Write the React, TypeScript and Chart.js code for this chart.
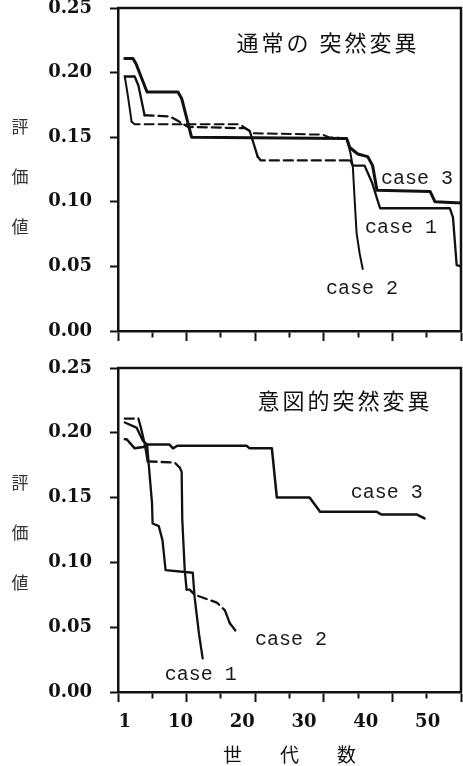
import React, { useEffect, useRef } from 'react';
import { Chart, registerables } from 'chart.js';

Chart.register(...registerables);

// ---------- data ----------
const X_MIN = -0.1;
const X_MAX = 55.4;
const Y_TICKS = [0, 0.05, 0.1, 0.15, 0.2, 0.25];
const X_TICK_LABELS = [1, 10, 20, 30, 40, 50];
const Y_LABEL_CHARS = ['評', '価', '値'];
const X_TITLE = '世　　代　　数';

// 通常の突然変異 (top panel)
const normalCase1Gen = [1, 2.6, 3.2, 4.2, 8.3, 9.5, 11.2, 19.6, 20.5, 21.2, 22.5, 23, 37.5, 37.9, 39.8, 41, 42.3, 53.6, 54.1, 54.7, 55.4];
const normalCase1Val = [0.197, 0.197, 0.19, 0.167, 0.166, 0.163, 0.158, 0.157, 0.157, 0.155, 0.135, 0.132, 0.132, 0.128, 0.128, 0.115, 0.095, 0.095, 0.088, 0.051, 0.05];
const normalCase2Gen = [1, 1.5, 2.1, 2.6, 19.6, 21.7, 33, 34, 36.9, 37.5, 37.9, 38.2, 38.5, 39, 39.5];
const normalCase2Val = [0.197, 0.182, 0.162, 0.16, 0.16, 0.153, 0.152, 0.15, 0.149, 0.138, 0.127, 0.101, 0.076, 0.06, 0.048];
const normalCase3Gen = [1, 2.3, 2.8, 4.6, 9.6, 10.2, 11.8, 36.9, 37.4, 38.7, 40.3, 41.1, 41.8, 50.4, 51.2, 55.4];
const normalCase3Val = [0.211, 0.211, 0.207, 0.185, 0.185, 0.18, 0.15, 0.149, 0.142, 0.137, 0.135, 0.128, 0.109, 0.108, 0.1, 0.099];

// 意図的突然変異 (bottom panel)
const intentCase1Gen = [1, 2.9, 3.9, 4.6, 5.4, 5.5, 6.5, 7.1, 7.6, 12, 12.3, 13, 13.6];
const intentCase1Val = [0.208, 0.204, 0.194, 0.191, 0.146, 0.13, 0.128, 0.117, 0.094, 0.092, 0.073, 0.045, 0.026];
const intentCase2Gen = [1, 3.2, 3.6, 4.2, 4.7, 9.1, 9.9, 10.2, 10.3, 10.7, 11, 11.5, 12.3, 15.9, 17.2, 18, 19.3];
const intentCase2Val = [0.211, 0.211, 0.204, 0.192, 0.178, 0.177, 0.173, 0.17, 0.133, 0.094, 0.079, 0.079, 0.075, 0.069, 0.063, 0.053, 0.045];
const intentCase3Gen = [1, 1.3, 2.6, 4, 4.6, 8.2, 8.8, 9.5, 20.7, 21.2, 24.8, 25.6, 30.9, 32.6, 41.8, 42.5, 48.2, 49.5];
const intentCase3Val = [0.195, 0.195, 0.188, 0.189, 0.191, 0.191, 0.188, 0.19, 0.19, 0.188, 0.188, 0.15, 0.15, 0.139, 0.139, 0.137, 0.137, 0.134];

// ---------- styling ----------
const INK = '#111';
const FONT_SERIF = '"DejaVu Serif", "Liberation Serif", serif';
const FONT_CJK = '"Noto Sans CJK JP", "Noto Sans", sans-serif';
const FONT_MONO = '"Liberation Mono", "DejaVu Sans Mono", monospace';

type SeriesDef = { label: string; gens: number[]; vals: number[]; width: number; dashBefore: number | null };
type PanelDef = {
  title: string;
  series: SeriesDef[];
  labels: { text: string; gen: number; val: number }[];
  showXLabels: boolean;
  height: number;
  padTop: number;
  titleDx: number;
  titleDy: number;
  yCharTop: number;
};

const TOP: PanelDef = {
  title: '通常の 突然変異',
  series: [
    { label: 'case 1', gens: normalCase1Gen, vals: normalCase1Val, width: 2.3, dashBefore: 37.4 },
    { label: 'case 2', gens: normalCase2Gen, vals: normalCase2Val, width: 2.0, dashBefore: 36.8 },
    { label: 'case 3', gens: normalCase3Gen, vals: normalCase3Val, width: 3.0, dashBefore: null },
  ],
  labels: [
    { text: 'case 3', gen: 48.3, val: 0.118 },
    { text: 'case 1', gen: 45.7, val: 0.08 },
    { text: 'case 2', gen: 39.4, val: 0.033 },
  ],
  showXLabels: false,
  height: 350,
  padTop: 8,
  titleDx: 133,
  titleDy: 35,
  yCharTop: 119,
};

const BOTTOM: PanelDef = {
  title: '意図的突然変異',
  series: [
    { label: 'case 1', gens: intentCase1Gen, vals: intentCase1Val, width: 2.3, dashBefore: null },
    { label: 'case 2', gens: intentCase2Gen, vals: intentCase2Val, width: 2.3, dashBefore: 100 },
    { label: 'case 3', gens: intentCase3Gen, vals: intentCase3Val, width: 2.5, dashBefore: null },
  ],
  labels: [
    { text: 'case 3', gen: 43.4, val: 0.154 },
    { text: 'case 2', gen: 27.9, val: 0.04 },
    { text: 'case 1', gen: 13.3, val: 0.013 },
  ],
  showXLabels: true,
  height: 416,
  padTop: 18,
  titleDx: 116,
  titleDy: 33,
  yCharTop: 115,
};

function buildConfig(panel: PanelDef): any {
  const datasets = panel.series.map((s) => ({
    label: s.label,
    data: s.gens.map((g, i) => ({ x: g, y: s.vals[i] })),
    borderColor: INK,
    backgroundColor: INK,
    borderWidth: s.width,
    pointRadius: 0,
    fill: false,
    tension: 0,
    borderJoinStyle: 'round',
    borderCapStyle: 'round',
    segment: {
      borderDash: (ctx: any) => {
        if (s.dashBefore == null) return [];
        const dx = Math.abs(ctx.p1.x - ctx.p0.x);
        const dy = Math.abs(ctx.p1.y - ctx.p0.y);
        return ctx.p0.parsed.x < s.dashBefore && dy < dx * 1.5 ? [9, 5] : [];
      },
    },
  }));

  const evenTicks = (scale: any) => {
    const t = [];
    for (let i = 0; i <= 10; i++) t.push({ value: X_MIN + ((X_MAX - X_MIN) * i) / 10 });
    scale.ticks = t;
  };

  const scales: any = {
    x: {
      type: 'linear',
      position: 'bottom',
      weight: 0,
      min: X_MIN,
      max: X_MAX,
      afterBuildTicks: evenTicks,
      ticks: { display: false },
      grid: {
        drawOnChartArea: false,
        drawTicks: true,
        tickLength: 10,
        tickWidth: 2,
        tickColor: INK,
        tickBorderDash: (c: any) => (c.index % 2 === 1 ? [5, 40] : []),
      },
      border: { display: true, color: INK, width: 2.5 },
      afterFit: (s: any) => {
        s.height = panel.showXLabels ? 10 : 19;
        s.paddingLeft = 0;
        s.paddingRight = 0;
      },
    },
    y: {
      type: 'linear',
      min: 0,
      max: 0.25,
      afterBuildTicks: (s: any) => {
        s.ticks = Y_TICKS.map((v) => ({ value: v }));
      },
      ticks: {
        callback: (v: any) => Number(v).toFixed(2),
        font: { family: FONT_SERIF, size: 18, weight: 'bold' },
        color: INK,
        padding: 18,
      },
      grid: { drawOnChartArea: false, tickLength: 8, tickWidth: 2, tickColor: INK },
      border: { display: true, color: INK, width: 2.5 },
      afterFit: (s: any) => {
        s.width = 118;
        s.paddingTop = 0;
        s.paddingBottom = 0;
      },
    },
  };

  if (panel.showXLabels) {
    scales.xl = {
      type: 'linear',
      position: 'bottom',
      weight: 1,
      min: X_MIN,
      max: X_MAX,
      afterBuildTicks: (s: any) => {
        s.ticks = X_TICK_LABELS.map((v) => ({ value: v }));
      },
      grid: { display: false, drawTicks: false },
      border: { display: false },
      ticks: {
        autoSkip: false,
        maxRotation: 0,
        padding: 10,
        color: INK,
        font: { family: FONT_SERIF, size: 18, weight: 'bold' },
        callback: (v: any) => String(v),
      },
      title: {
        display: true,
        text: X_TITLE,
        color: INK,
        font: { family: FONT_CJK, size: 19 },
        padding: { top: 0, bottom: 0 },
      },
      afterFit: (s: any) => {
        s.height = 64;
        s.paddingLeft = 0;
        s.paddingRight = 0;
      },
    };
  }

  const framePlugin = {
    id: 'frame',
    afterDatasetsDraw(chart: any) {
      const { ctx, chartArea: a } = chart;
      ctx.save();
      ctx.strokeStyle = INK;
      ctx.lineWidth = 2.5;
      ctx.beginPath();
      ctx.moveTo(a.left - 1, a.top);
      ctx.lineTo(a.right, a.top);
      ctx.lineTo(a.right, a.bottom);
      ctx.stroke();
      ctx.restore();
    },
  };

  const textPlugin = {
    id: 'panelText',
    afterDraw(chart: any) {
      const { ctx, chartArea: a } = chart;
      const xs = chart.scales.x;
      const ys = chart.scales.y;
      ctx.save();
      ctx.fillStyle = INK;
      ctx.textAlign = 'center';
      ctx.textBaseline = 'middle';
      // panel title
      ctx.font = `22px ${FONT_CJK}`;
      (ctx as any).letterSpacing = '3px';
      ctx.fillText(panel.title, a.right - panel.titleDx, a.top + panel.titleDy);
      (ctx as any).letterSpacing = '0px';
      // case labels
      ctx.font = `20px ${FONT_MONO}`;
      ctx.fillStyle = '#1a1a1a';
      panel.labels.forEach((l) => {
        ctx.fillText(l.text, xs.getPixelForValue(l.gen), ys.getPixelForValue(l.val));
      });
      // vertical y-axis label
      ctx.font = `17px ${FONT_CJK}`;
      ctx.fillStyle = '#333';
      Y_LABEL_CHARS.forEach((ch, i) => {
        ctx.fillText(ch, 20, a.top + panel.yCharTop + i * 50);
      });
      ctx.restore();
    },
  };

  return {
    type: 'line',
    data: { datasets },
    options: {
      animation: false,
      responsive: false,
      devicePixelRatio: 1,
      parsing: true,
      layout: { padding: { left: 0, right: 2, top: panel.padTop, bottom: 0 } },
      plugins: { legend: { display: false }, tooltip: { enabled: false } },
      scales,
    },
    plugins: [framePlugin, textPlugin],
  };
}

function PanelChart({ panel }: { panel: PanelDef }) {
  const ref = useRef<HTMLCanvasElement>(null);
  useEffect(() => {
    const chart = new Chart(ref.current as HTMLCanvasElement, buildConfig(panel));
    return () => chart.destroy();
  }, [panel]);
  return (
    <div style={{ width: 463, height: panel.height, position: 'relative' }}>
      <canvas ref={ref} width={463} height={panel.height} style={{ display: 'block' }} />
    </div>
  );
}

export default function App() {
  return (
    <div style={{ position: 'absolute', left: 0, top: 0, width: 463, height: 766, background: '#fff' }}>
      <PanelChart panel={TOP} />
      <PanelChart panel={BOTTOM} />
    </div>
  );
}
